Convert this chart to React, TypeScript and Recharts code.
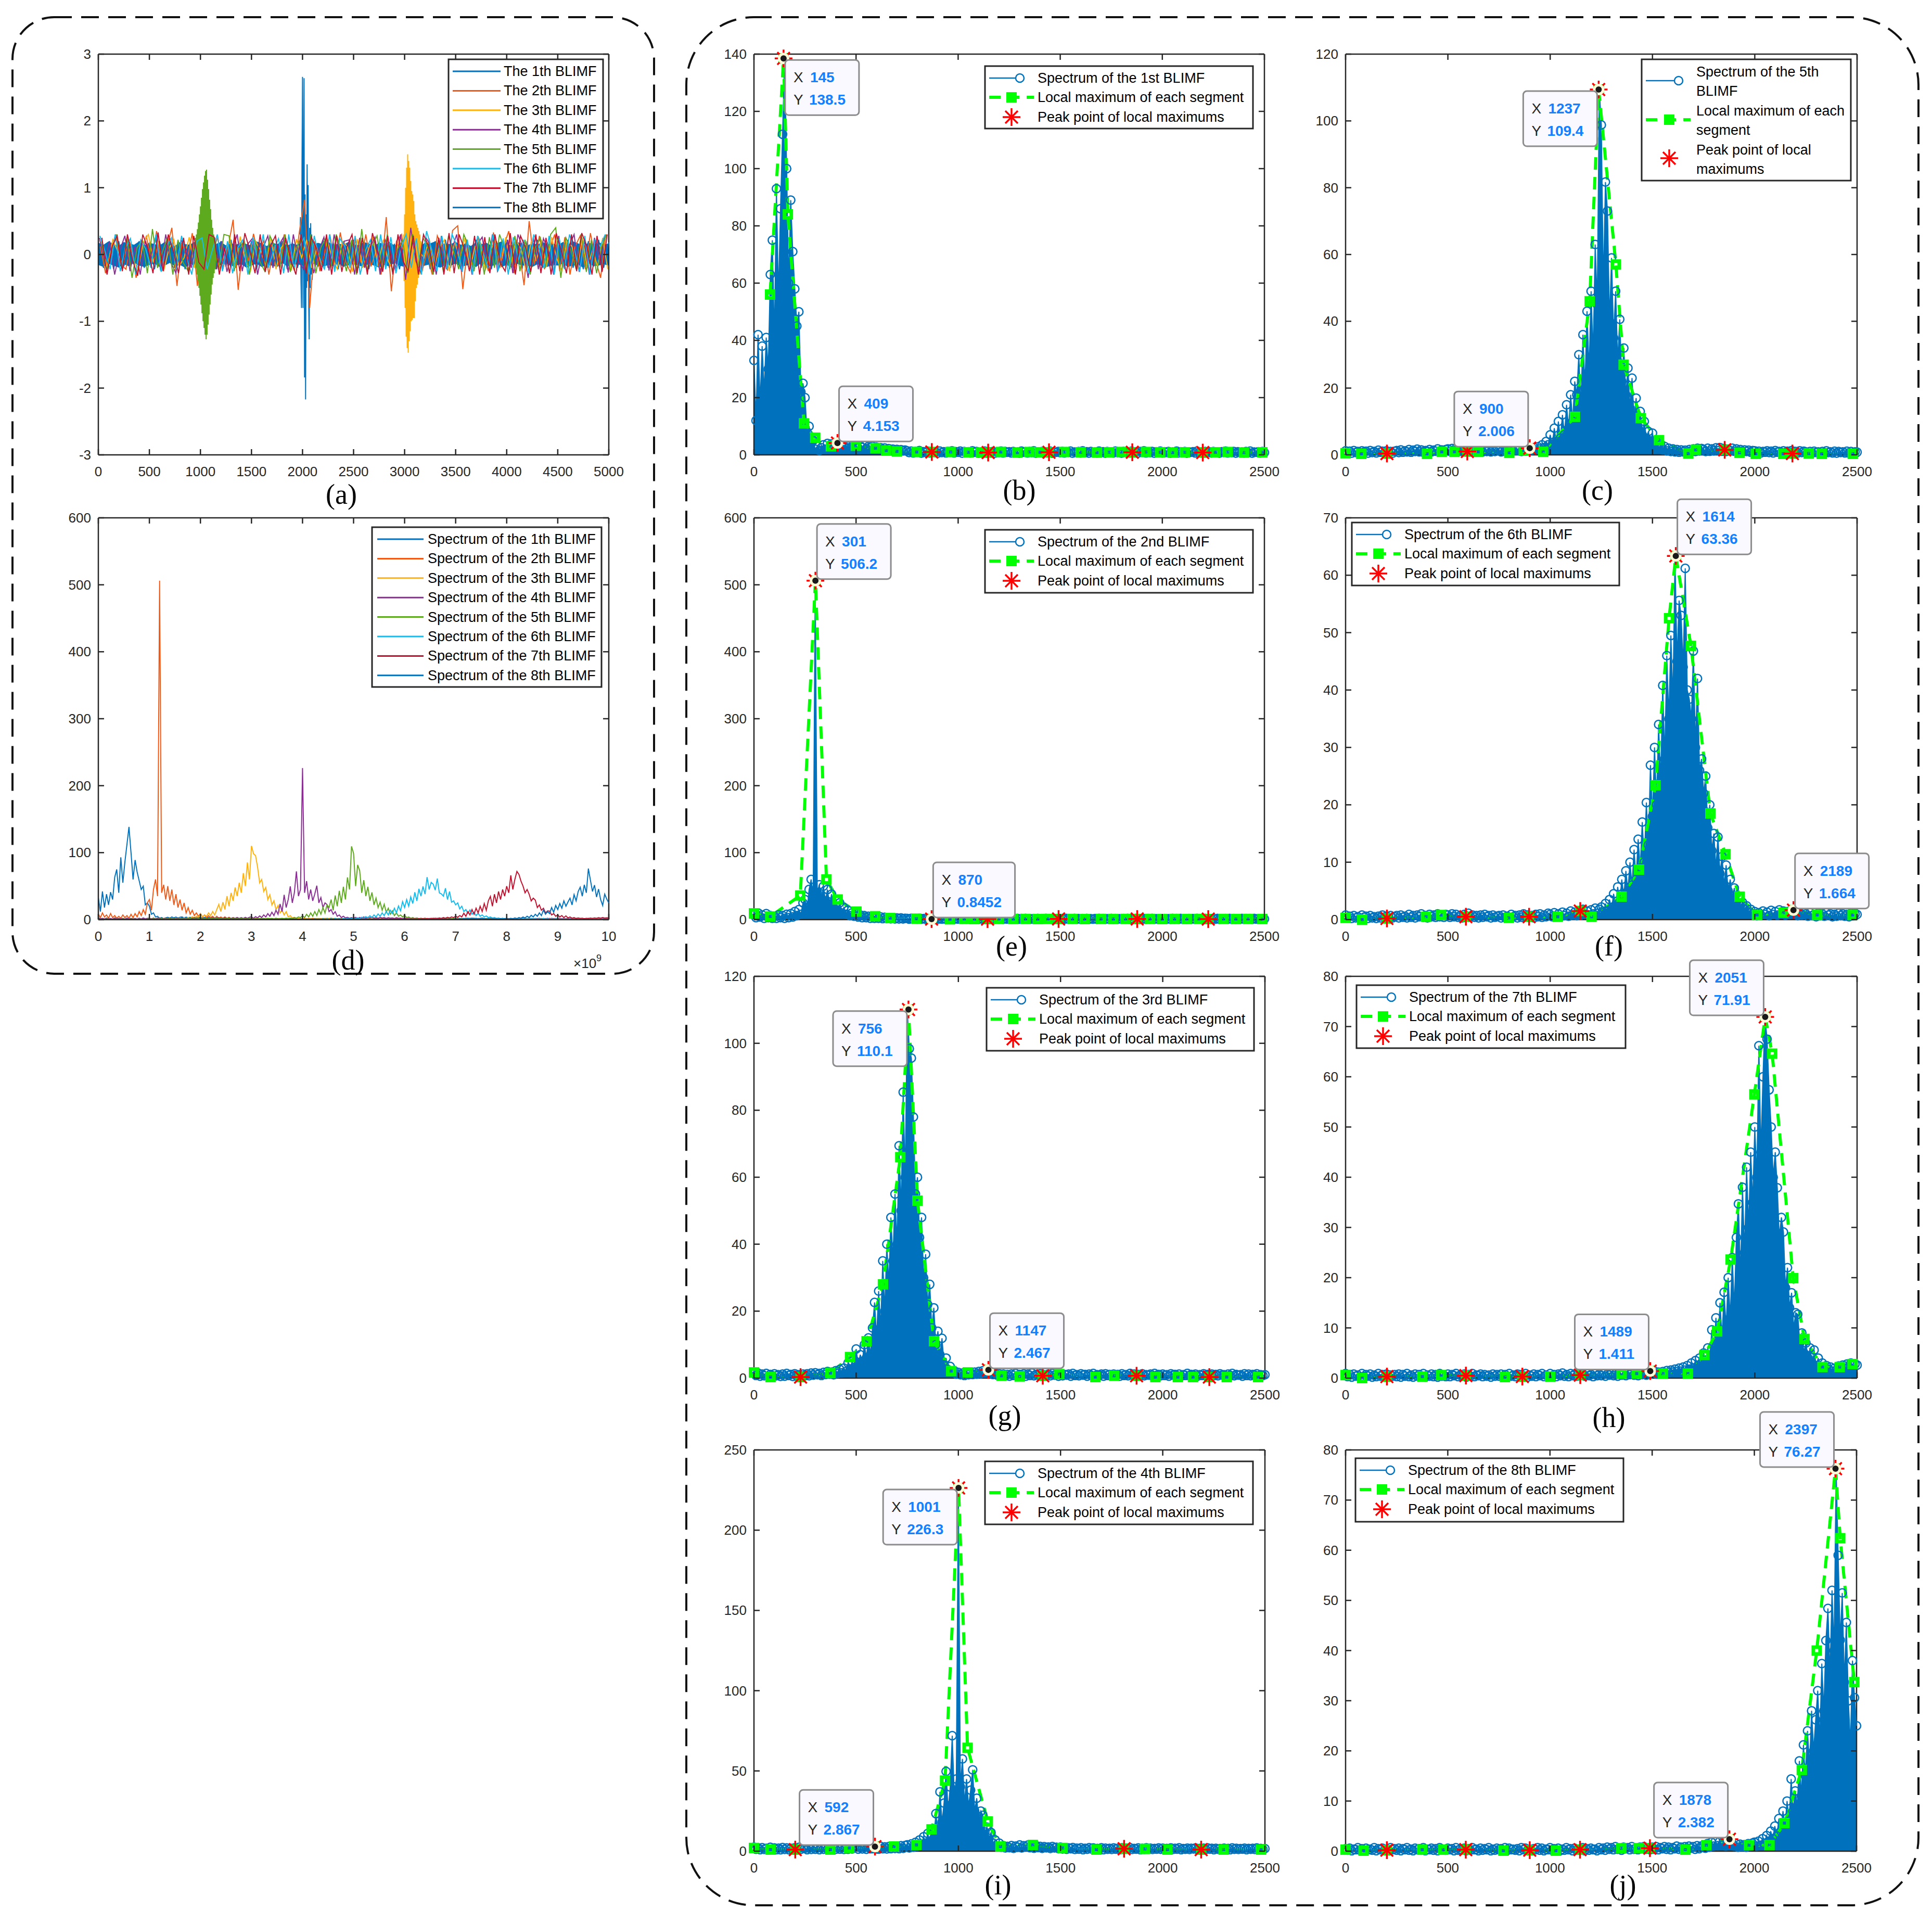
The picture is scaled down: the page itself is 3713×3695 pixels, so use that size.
import React from 'react';
import { ComposedChart, LineChart, Line, Area, XAxis, YAxis, ReferenceLine, ReferenceDot } from 'recharts';

const FONT = '"Liberation Sans", Arial, Helvetica, sans-serif';
const SERIF = '"Liberation Serif", "Times New Roman", Times, serif';
const AX = '#262626';
const C1 = '#0072BD', C2 = '#F05A16', C3 = '#FFB20F', C4 = '#8A2E94', C5 = '#5EAA1F', C6 = '#12BCEF', C7 = '#C0122F', C8 = '#0072BD';
const SERIES_COLORS = [C1, C2, C3, C4, C5, C6, C7, C8];
const MK_GREEN = '#00FF00', MK_RED = '#FF0000', TIP_BLUE = '#1280FF';
const TICK = 11;
const LEG_FS = 27;

// ---------------- panel (a): time-domain BLIMFs ----------------
const A_NAMES = ['The 1th BLIMF', 'The 2th BLIMF', 'The 3th BLIMF', 'The 4th BLIMF', 'The 5th BLIMF', 'The 6th BLIMF', 'The 7th BLIMF', 'The 8th BLIMF'];
const A_X_TICKS = [0, 500, 1000, 1500, 2000, 2500, 3000, 3500, 4000, 4500, 5000];
const A_Y_TICKS = [-3, -2, -1, 0, 1, 2, 3];

// noise, one value every 50 samples (each series has its own start sample)
const T1 = [.18,-.2,.15,-.22,.2,-.18,.22,-.15,.2,-.2, .18,-.22,.2,-.16,.22,-.2,.18,-.22,.2,-.18, .22,-.2,.16,-.22,.2,-.18,.22,-.2,.18,-.15, .2,-.22,.18,-.2,.22,-.16,.2,-.22,.18,-.2, .1,-.1,.2,-.18,.22,-.2,.18,-.22,.2,-.16, .22,-.2,.18,-.22,.2,-.18,.22,-.2,.16,-.22, .2,-.18,.22,-.2,.18,-.22,.2,-.16,.22,-.2, .18,-.22,.2,-.18,.22,-.2,.16,-.22,.2,-.18, .22,-.2,.18,-.22,.2,-.16,.22,-.2,.18,-.22, .2,-.18,.22,-.2,.16,-.22,.2,-.18,.22,-.2, .18];
const T2 = [.12,-.28,.05,.3,-.15,-.22,.18,-.35,.08,.27, -.12,.35,-.25,.1,.4,-.47,.2,-.08,.32,-.47, .15,-.3,.06,.26,-.22,.1,.52,-.53,.18,-.1, .31,-.06,.22,-.3,.12,-.18,.3,.05,-.24,.35, .82,-.8,.2,-.25,.08,.28,-.2,.33,-.1,-.27, .24,-.12,.3,-.18,.05,-.3,.56,-.55,.2,.3, -.25,.12,.32,-.26,.05,-.3,.28,.1,-.24,.36, .43,-.52,.15,-.22,.27,.06,-.25,.33,-.2,.12, .35,-.28,.1,-.46,.5,-.15,.28,-.22,.08,.3, -.25,.26,-.3,.12,.28,-.22,.32,-.08,-.35,.3];
const T3 = [.1,-.2,.22,.05,-.18,.25,-.08,-.22,.18,.3, -.12,.2,-.25,.08,.22,-.18,-.05,.26,-.2,.12, .2,-.25,.1,-.22,.04,.24,-.2,.27,-.1,-.25, .2,.06,-.18,.25,-.22,.1,.19,-.24,.23,-.05, .22,-.2,.1,-.18,.24,-.06,-.22,.2,.12,-.26, .23,-.2,.05,.25,-.18,.22,-.1,-.24,.2,.08, -.1,.1,.05,-.05,.24,-.2,.1,.22,-.25,.2, -.08,.25,-.22,.12,.2,-.24,.05,.23,-.2,.26, -.18,.22,.08,-.25,.2,-.1,.22,-.18,.26,-.06, -.24,.2,.12,-.22,.25,-.2,.06,-.18,.25,-.22];
const T4 = [.25,-.1,.2,-.3,.06,.28,-.25,.12,-.3,.2, -.05,.26,-.24,.3,-.12,-.28,.22,.08,-.2,.25, -.3,.28,.1,-.22,.2,-.26,.05,.3,-.25,.15, .24,-.3,.08,.28,-.2,.12,.25,-.27,.3,-.1, -.22,.2,-.28,.06,.26,-.24,.3,-.12,.2,.22, -.3,.25,-.2,.1,.26,-.3,.22,.05,-.24,.3, -.38,.4,-.1,-.28,.25,.12,-.3,.28,-.22,.06, .3,-.26,.22,-.3,.15,.26,-.2,.3,-.25,-.08, .22,-.28,.3,.1,-.35,.26,-.22,.24,.05,-.3, .28,-.2,.12,.3,-.26,.22,-.3,.25,-.12,.28];
const T5 = [.2,-.25,.06,.3,-.2,.25,-.35,.1,.22,-.28, .38,-.2,.05,.26,-.3,.22,-.12,-.25,.1,-.1, .05,-.05,.1,-.22,.3,.28,-.25,.08,.2,-.3, .22,-.1,-.25,.28,.12,-.2,.3,-.26,.05,.24, -.22,.3,-.28,.1,.25,-.2,.3,.06,-.25,.22, -.3,.38,-.25,.12,.28,-.22,.3,-.26,.08,.22, -.28,.3,-.2,.25,.1,-.3,.22,-.26,.28,.05, -.22,.3,.12,-.25,.24,-.3,.26,-.2,.3,.08, -.22,.28,-.25,.22,-.3,.1,.25,-.2,.3,.4, -.35,.25,.06,-.22,.3,-.26,.22,-.28,.12,.3];
const T6 = [.28,.05,-.22,.3,-.25,.1,.24,-.3,.22,.08, -.2,.3,-.26,.12,.25,-.22,.28,-.05,-.3,.2, .25,-.22,.06,.3,-.25,.2,-.28,.1,.22,-.3, .26,-.12,.3,-.2,.05,.24,-.28,.3,-.22,.1, .25,-.3,.28,-.08,-.22,.3,-.26,.24,.12,-.2, .28,-.3,.06,.22,-.25,.3,-.22,.26,-.28,.1, .3,-.2,.24,-.3,.35,.08,-.25,.28,-.22,.3, .12,-.26,.22,-.3,.28,.05,-.2,.3,-.25,.24, -.3,.26,-.08,.22,-.28,.3,.1,-.2,.28,-.3, .24,-.22,.3,.06,-.26,.28,-.3,.22,.12,.3];
const T7 = [.25,-.3,.12,.28,-.25,.3,-.08,-.32,.3,.1, -.28,.33,-.25,.3,.05,-.28,.25,-.3,.28,-.12, -.22,.3,.26,-.3,.1,-.28,.3,-.25,.32,.06, -.28,.3,-.26,.12,.28,-.3,.25,-.08,-.3,.3, -.28,.26,.1,-.25,.3,-.3,.28,-.26,.12,.3, -.28,.25,-.3,.32,.05,-.26,.28,-.3,.3,-.1, -.25,.28,-.3,.3,.12,-.26,.25,-.3,.32,-.28, .3,.08,-.25,.28,-.3,.26,-.28,.3,-.12,-.25, .32,-.3,.28,.1,-.26,.3,-.28,.25,-.3,.32, .06,-.28,.3,-.25,.32,.12,-.3,.28,-.26,.3];
// 8th BLIMF: dense core, upper / lower edge every 50 samples
const T8_HI = [.17,.14,.19,.15,.12,.18,.16,.14,.19,.13, .17,.15,.13,.18,.16,.12,.18,.15,.14,.19, .16,.13,.17,.15,.18,.13,.16,.14,.18,.15, .13,.19,.16,.12,.17,.15,.18,.13,.16,.14, .18,.16,.13,.17,.15,.19,.12,.16,.14,.18, .15,.13,.18,.16,.12,.17,.15,.18,.13,.16, .14,.18,.15,.12,.17,.16,.19,.13,.16,.15, .18,.14,.16,.12,.18,.15,.17,.13,.16,.19, .15,.13,.18,.16,.12,.17,.14,.18,.15,.16, .13,.18,.15,.19,.16,.12,.17,.15,.18,.14, .16];
const T8_LO = [-.15,-.18,-.13,-.16,-.19,-.14,-.17,-.12,-.16,-.18, -.15,-.13,-.18,-.16,-.12,-.17,-.15,-.19,-.14,-.16, -.18,-.13,-.16,-.18,-.15,-.12,-.17,-.16,-.14,-.19, -.16,-.13,-.18,-.15,-.16,-.18,-.12,-.17,-.15,-.14, -.16,-.19,-.13,-.16,-.18,-.15,-.17,-.12,-.18,-.15, -.14,-.16,-.18,-.13,-.16,-.19,-.15,-.17,-.12,-.16, -.18,-.15,-.13,-.18,-.16,-.14,-.17,-.19,-.15,-.16, -.13,-.18,-.16,-.15,-.18,-.12,-.16,-.17,-.14,-.18, -.15,-.19,-.13,-.16,-.16,-.18,-.14,-.17,-.18,-.15, -.16,-.13,-.18,-.16,-.15,-.19,-.12,-.17,-.16,-.14, -.16];
// bursts, one value every 5 samples
const BURST1 = [.3,.56,-.4,-.8,1.4,2.66,-.8,1.0,2.64,-1.84,.9,-2.17,.6,-.5,1.35,-.4,1.04,-.6,-1.27,.4,-.5,.47,-.3,.3,-.38,.2]; // from 1975
const BURST3 = [.3,-.4,.6,-.8,1.0,-1.23,1.3,-1.4,1.5,-1.47,1.4,-1.3,1.3,-1.15,1.1,-1.0,.95,-.98,.9,-.95,.8,-.95,.6,-.7,.5,-.5,.45,-.45,.4,-.35,.35,-.3,.3,-.25,.2]; // from 2990
const BURST5 = [.25,-.2,.3,-.3,.38,-.4,.48,-.5,.6,-.62,.72,-.75,.85,-.88,.98,-1.0,1.08,-1.1,1.18,-1.2,1.25,-1.27,1.27,-1.2,1.12,-1.05,.98,-.9,.82,-.75,.68,-.6,.52,-.45,.4,-.35,.3,-.28,.25,-.22,.2]; // from 950

// ---------------- spectra (one value every 10 bins, bins 0..2500) ----------------
const SPEC1 = [
  33,12,42,18,38,22,41,30,63,75,40,93,55,86,112,138.5,100,60,89,71,58,45,50,22,25,
  20,8,10,4,5,2,3,1.5,2.5,3.5,2,4,2.5,3.8,2.2,3.5,4.1,2.5,3.6,2.8,3.5,2.4,3.3,2.6,3.4,
  3,2.4,3.2,2.6,3.5,2.2,2.9,2.5,3,2.2,2.7,2.1,2.5,1.9,2.4,1.8,2.2,1.7,2,1.6,1.9,1.5,1.8,1.4,1.7,
  1.4,0.8,1.3,0.7,1.2,0.9,1.5,0.6,1.1,0.8,1.3,0.7,1.2,0.9,1,0.6,1.3,0.8,1.1,0.7,1.2,0.9,1.4,0.7,1.1,
  0.9,1.3,0.6,1.2,0.8,1.1,0.7,1.4,0.9,1.2,0.6,1,0.8,1.3,0.7,1.1,0.9,1.2,0.6,1,0.8,1.3,0.7,1.2,0.9,
  1.1,0.7,1.2,0.8,1,0.6,1.3,0.9,1.1,0.7,1.2,0.8,1.4,0.6,1,0.9,1.2,0.7,1.1,0.8,1.3,0.6,1,0.9,1.2,
  0.8,1.2,0.7,1.1,0.9,1.3,0.6,1,0.8,1.2,0.7,1.4,0.9,1.1,0.6,1.2,0.8,1,0.7,1.3,0.9,1.1,0.6,1.2,0.8,
  1,0.7,1.3,0.8,1.1,0.6,1.2,0.9,1,0.7,1.3,0.8,1.1,0.6,1.2,0.9,1.4,0.7,1,0.8,1.2,0.6,1.1,0.9,1.3,
  0.7,1.1,0.8,1.2,0.6,1,0.9,1.3,0.7,1.1,0.8,1.2,0.6,1,0.9,1.1,0.7,1.3,0.8,1,0.6,1.2,0.9,1.1,0.7,
  1.2,0.8,1,0.6,1.1,0.9,1.3,0.7,1,0.8,1.2,0.6,1.1,0.9,1,0.7,1.2,0.8,1.3,0.6,1,0.9,1.1,0.7,1.2,
  0.8];
const SPEC2 = [
  8,3,10,4,7,2,9,3,6,2,5,2,7,3,6,2,8,3,9,4,12,6,15,8,25,
  30,14,45,60,35,506.2,40,52,30,50,28,45,22,38,18,30,14,25,10,18,8,14,6,10,5,
  9,4,7,3,6,3,5,2,5,2,4,2,4,1.5,3.5,1.5,3,1.2,3,1,2.5,1,2.5,1,2,
  1.8,0.8,2,1,1.6,0.7,1.9,0.9,1.5,0.8,1.7,0.85,2,1,1.6,0.7,1.8,0.9,1.5,0.6,1.7,0.8,1.9,0.7,1.6,
  0.9,1.7,0.7,1.5,0.8,1.8,0.6,1.4,0.9,1.6,0.7,1.9,0.8,1.5,0.6,1.7,0.9,1.4,0.7,1.6,0.8,1.8,0.6,1.5,0.9,
  1.6,0.7,1.4,0.9,1.8,0.6,1.5,0.8,1.7,0.7,1.4,0.9,1.6,0.6,1.8,0.8,1.5,0.7,1.7,0.9,1.4,0.6,1.6,0.8,1.5,
  0.8,1.5,0.6,1.7,0.9,1.4,0.7,1.8,0.8,1.6,0.6,1.5,0.9,1.7,0.7,1.4,0.8,1.6,0.6,1.8,0.9,1.5,0.7,1.4,0.8,
  1.7,0.6,1.5,0.8,1.4,0.9,1.6,0.7,1.8,0.6,1.5,0.8,1.7,0.9,1.4,0.7,1.6,0.6,1.5,0.8,1.8,0.7,1.4,0.9,1.6,
  0.7,1.6,0.9,1.4,0.6,1.7,0.8,1.5,0.7,1.8,0.9,1.4,0.6,1.6,0.8,1.5,0.7,1.7,0.9,1.4,0.6,1.8,0.8,1.5,0.7,
  1.5,0.8,1.7,0.6,1.4,0.9,1.6,0.7,1.8,0.8,1.5,0.6,1.4,0.9,1.7,0.7,1.6,0.8,1.5,0.6,1.8,0.9,1.4,0.7,1.6,
  0.9];
const SPEC3 = [
  1.7,0.8,1.5,0.6,1.2,0.7,1.4,0.5,1.1,0.6,1.3,0.7,1,0.5,1.2,0.6,1.4,0.8,1.1,0.5,1.3,0.6,1,0.5,1.2,
  0.8,1.3,0.7,1.5,0.9,1.6,1,1.4,0.8,1.7,1.1,2,1.2,1.8,1,2.2,1.4,2.6,1.6,3,2,4.5,2.5,5,3.2,
  8.7,4,7,5,10,6,12,7,15,22.6,12,26,15,35,20,40,28,48,35,55,40,69.4,50,85.4,60,
  110.1,98.4,95.6,78,55,60,42,48,30,37,22,28,15,21,10,14,7,11.9,4,6,2.5,3.5,1.8,2.2,1.2,
  1.7,1,1.5,0.8,1.4,1,1.6,1.1,1.8,1.2,2,1.3,2.2,1.5,2.467,1.4,2,1.1,1.6,0.9,1.3,0.8,1.2,0.7,1.1,
  0.6,1.2,0.8,1.4,0.7,1.1,0.9,1.3,0.6,1.2,0.8,1.5,0.7,1.1,0.9,1.3,0.6,1,0.8,1.2,0.7,1.4,0.9,1.1,0.6,
  1.3,0.7,1.1,0.9,1.2,0.6,1.4,0.8,1,0.7,1.3,0.9,1.1,0.6,1.2,0.8,1.4,0.7,1,0.9,1.2,0.6,1.3,0.8,1.1,
  0.7,1.2,0.9,1.1,0.6,1.3,0.8,1,0.7,1.4,0.9,1.2,0.6,1.1,0.8,1.3,0.7,1,0.9,1.2,0.6,1.4,0.8,1.1,0.7,
  1.2,0.8,1,0.6,1.3,0.9,1.1,0.7,1.2,0.6,1,0.8,1.4,0.7,1.1,0.9,1.2,0.6,1,0.8,1.3,0.7,1.1,0.9,1.2,
  0.8,1.1,0.7,1.3,0.9,1,0.6,1.2,0.8,1.4,0.7,1.1,0.9,1,0.6,1.3,0.8,1.2,0.7,1.1,0.9,1.3,0.6,1,0.8,
  1];
const SPEC4 = [
  2.5,1.2,2,1,2.2,1.1,1.8,0.8,2.4,1.2,2,1,1.9,0.9,2.3,1.1,2,1,1.8,0.8,2.1,1,2.4,1.2,2,
  1.9,1,2.2,1.1,2.5,1.2,2,1,2.3,1.2,2.6,1.3,2.1,1,2.4,1.2,2.7,1.3,2.2,1.1,2.5,1.2,2.8,1.4,2.3,
  2.6,1.3,2.9,1.4,2.4,1.2,2.8,1.5,1.6,2.867,1.4,1.3,3,1.5,2.7,1.4,2.9,1.6,3.2,1.7,3,1.6,3.4,1.8,3.6,
  4,2,4.5,2.5,5.5,3,7,4,9,5,11,6,14,8,23.4,12,37,18,30,49.7,25,40,72,35,45,
  226.3,40,57.5,30,45,28,38,50.7,25,33,18,25,22.4,12,15,8,11.7,5,7,3,5,2.5,3.5,2,3,
  2.2,3.5,1.8,3.2,2.4,3.9,2,3.4,2.6,3.8,2.2,3.1,1.9,3.5,2.3,3,1.8,2.8,2.1,2.6,1.7,2.9,2,2.4,1.6,
  2.5,1.4,2.2,1.2,2,1.5,2.3,1.1,1.9,1.3,2.1,1,1.8,1.2,2.2,1.4,2,1.1,1.7,1.3,2.1,1,1.9,1.2,1.8,
  1.1,2,1.3,1.8,1,2.1,1.2,1.9,1.5,2.2,1.1,1.7,1.3,2,1,1.8,1.2,2.1,1.4,1.9,1.1,1.7,1.3,2,1.2,
  1.9,1,1.7,1.2,2,1.1,1.8,1.3,2.1,1,1.6,1.2,1.9,1.1,1.8,1.4,2,1,1.7,1.2,1.9,1.1,2,1.3,1.8,
  1,1.8,1.2,1.6,1.1,1.9,1.3,1.7,1,2,1.2,1.8,1.1,1.6,1.3,1.9,1,1.7,1.2,1.8,1.1,2,1.3,1.7,1.2,
  1.6];
const SPEC5 = [
  1.2,0.6,1.1,0.5,1.3,0.7,1,0.6,1.2,0.8,1.1,0.5,1.3,0.7,1,0.6,1.4,0.8,1.1,0.6,1.2,0.7,1,0.5,1.1,
  1.3,0.7,1.5,0.8,1.2,0.9,1.6,0.8,1.4,1,1.7,0.9,1.5,0.8,1.3,1,1.6,0.9,1.4,1.1,1.8,1,1.5,0.9,1.6,
  1.8,1,1.9,1.2,2,1.1,1.7,1,1.9,1.2,1.6,1,1.8,1.1,1.7,1,1.6,0.9,1.5,1,1.7,0.9,1.6,1,1.8,
  1.4,0.9,1.6,1,1.8,1.1,1.5,1.2,1.9,1.3,1.7,1,1.8,1.2,1.6,2.006,1.4,2.2,1.5,2.4,1.8,3,2.2,4,3,
  6,3,8,4,10,5,12,6,15,8,18,10,22,18,30,14,36,20,43,25,49,30,63,45,109.4,
  98.8,50,81.7,73,40,59,35,49,28,40.6,22,32,18,26,14,23,11,17,8,13,6,10,5,7,4,
  6.5,3,4,2,3,1.5,2.5,1.2,2,1,1.8,0.9,1.6,0.8,1.5,0.9,1.4,0.8,1.6,1,1.8,1,2,1.2,1.9,
  1.6,1,2,1.1,1.8,1.2,2.1,1.3,2.2,1.1,1.9,1,1.7,1.2,2,1.1,1.8,1,1.6,0.9,1.5,1,1.4,0.8,1.3,
  1.2,0.7,1.1,0.6,1,0.8,1.2,0.7,1.1,0.6,1.3,0.8,1,0.7,1.2,0.6,1.1,0.8,1.3,0.7,1,0.6,1.2,0.7,1.1,
  0.9,0.6,1,0.5,1.1,0.7,0.9,0.6,1,0.5,1.2,0.7,0.9,0.6,1.1,0.5,1,0.7,0.9,0.6,1.1,0.5,1,0.6,0.9,
  0.8];
const SPEC6 = [
  0.8,0.3,0.6,0.2,0.7,0.3,0.5,0.2,0.8,0.4,0.6,0.2,0.7,0.3,0.5,0.2,0.6,0.3,0.8,0.4,0.6,0.2,0.7,0.3,0.5,
  0.7,0.3,0.8,0.4,0.6,0.3,0.9,0.4,0.7,0.3,0.8,0.5,1,0.4,0.7,0.3,0.9,0.5,0.8,0.4,1,0.5,0.8,0.4,0.9,
  0.8,0.4,1,0.5,0.9,0.4,0.7,0.3,0.9,0.5,1.1,0.5,0.8,0.4,0.7,0.3,0.8,0.4,0.9,0.5,0.7,0.3,0.8,0.4,0.6,
  0.7,0.3,0.8,0.4,0.6,0.3,0.9,0.5,0.7,0.3,0.8,0.4,1,0.5,0.8,0.4,0.7,0.3,0.9,0.5,1,0.4,0.8,0.5,1.1,
  0.9,0.5,1.2,0.6,1,0.5,1.3,0.7,1.1,0.6,1.5,0.8,1.3,0.7,1.5,0.8,1.8,0.9,1.5,0.8,1.7,1,2,1.1,1.8,
  2.2,1.2,2.8,1.5,3.5,1.8,4.5,2.5,5.7,3,7,4,8.5,5,10,6,12.2,7,14,9,17,10,20.4,13,26.9,
  18,30,20,34,24,40.8,28,46,35,49.5,38,63.36,45,55.6,53,44,61.2,40,38.4,35,46.8,30,42,26,28,
  22,25,16,20,12,15,9,14.4,8,11,6,9.5,5,7,4,5.5,3,4,2.4,3,1.8,2.4,1.2,1.8,1,
  1.4,0.7,1.2,0.8,1.5,0.9,1.3,0.7,1.6,0.9,1.4,0.8,1.7,1,1.5,0.8,1.4,0.9,1.664,1,1.3,0.7,1.2,0.8,1.4,
  1,0.6,1.2,0.7,0.9,0.5,1.1,0.7,1,0.6,1.2,0.8,1,0.5,0.9,0.6,1.1,0.7,1,0.6,0.9,0.5,1.1,0.7,1,
  0.9];
const SPEC7 = [
  0.9,0.3,0.7,0.2,0.8,0.4,0.6,0.2,0.9,0.3,0.7,0.4,0.8,0.2,0.6,0.3,0.9,0.4,0.7,0.2,0.8,0.3,0.6,0.4,0.7,
  0.3,0.8,0.2,0.7,0.4,0.9,0.3,0.6,0.2,0.8,0.4,0.7,0.3,0.9,0.2,0.6,0.4,0.8,0.3,0.7,0.2,0.9,0.4,0.6,0.3,
  0.8,0.3,0.7,0.5,0.9,0.3,0.6,0.4,0.8,0.2,0.7,0.4,0.9,0.3,0.6,0.5,0.8,0.3,0.7,0.4,0.6,0.2,0.8,0.4,0.7,
  0.4,0.8,0.3,0.7,0.2,0.9,0.4,0.6,0.3,0.8,0.5,0.7,0.3,0.9,0.2,0.6,0.4,0.8,0.3,0.7,0.5,0.9,0.3,0.6,0.4,
  0.9,0.4,0.7,0.3,0.8,0.5,1,0.4,0.7,0.3,0.9,0.5,0.8,0.4,1,0.6,0.8,0.4,0.9,0.5,0.7,0.3,0.9,0.5,0.8,
  0.5,1,0.4,0.8,0.6,1.1,0.5,0.9,0.4,1,0.6,1.2,0.5,0.9,0.7,1.1,0.6,1.2,0.5,1,0.7,1.3,0.6,1.411,0.8,
  1,1.4,0.8,1.2,0.9,1.3,1,1.5,1.1,1.6,1.2,1.8,1.3,2,1.4,2.2,1.6,2.5,1.8,3,2,3.5,2.4,4,3,
  5,3.5,6,4,9.6,5,12,7,15,8,17.1,10,20,12,24,14,28,34.7,20,38,25,42,30,45,35,
  50,40,66.2,45,60,71.91,67.5,57.4,50,40,45,37.9,28,32,29.1,18,22,14,17,10,13,12.7,7,9,5,
  7,4,6,3,5.6,2.5,4,2,3,1.5,2.5,1.8,2.2,1.4,2,1.6,2.4,1.8,2.6,2,2.8,2.2,3,2.4,2.8,
  2.6];
const SPEC8 = [
  0.5,0.2,0.6,0.1,0.4,0.3,0.7,0.2,0.5,0.1,0.6,0.3,0.4,0.2,0.7,0.1,0.5,0.3,0.6,0.2,0.4,0.1,0.7,0.3,0.5,
  0.2,0.6,0.1,0.5,0.3,0.7,0.2,0.4,0.1,0.6,0.3,0.5,0.2,0.7,0.1,0.4,0.3,0.6,0.2,0.5,0.1,0.7,0.3,0.4,0.2,
  0.6,0.3,0.5,0.1,0.7,0.2,0.4,0.3,0.6,0.1,0.5,0.2,0.7,0.3,0.4,0.1,0.6,0.2,0.5,0.3,0.7,0.1,0.4,0.2,0.6,
  0.3,0.5,0.2,0.7,0.1,0.6,0.3,0.4,0.2,0.5,0.1,0.7,0.3,0.6,0.2,0.4,0.1,0.5,0.3,0.7,0.2,0.6,0.1,0.4,0.3,
  0.7,0.2,0.5,0.3,0.6,0.1,0.4,0.2,0.7,0.3,0.5,0.1,0.6,0.2,0.4,0.3,0.7,0.1,0.5,0.2,0.6,0.3,0.4,0.1,0.7,
  0.3,0.6,0.2,0.8,0.4,0.7,0.3,0.9,0.4,0.6,0.2,0.8,0.5,0.7,0.3,0.9,0.4,0.6,0.3,0.8,0.5,0.9,0.4,0.7,0.3,
  0.8,0.4,0.9,0.3,0.7,0.5,0.9,0.4,0.8,0.3,0.7,0.5,1,0.4,0.8,0.3,0.9,0.5,1,0.6,0.9,0.4,1.1,0.5,1,
  1.2,0.6,1.5,0.8,1.8,1,2,1.1,1.9,1.2,2,1,1.8,2.382,1.6,1,1.5,0.8,1.4,0.9,1.3,0.8,1.5,1,1.6,
  1.8,1,2,1.2,2.5,1.5,3.1,2,4,2.5,5,3,6.5,4,8,5,10,6,14.4,8,12,9,18,11,21.2,
  15,24,17,28,20,26.2,32,22,37.4,28,42,48.4,35,52,40,76.27,59,42.1,51.5,33.7,45.6,30,21.2,38,30.6,
  25];

// local maxima of each segment [bin, value]
const GREEN1 = [[79,56],[145,138.5],[166,84],[245,11],[300,6],[377,3],[409,4.153],[499,3.2],[595,2.3],[648,1.5],[700,1.2],[797,1],[871,1],[963,1],[1050,0.9],[1112,0.8],[1147,0.8],[1209,1],[1290,0.8],[1349,1],[1401,0.9],[1445,0.9],[1520,1],[1600,0.9],[1680,0.8],[1740,0.9],[1800,1],[1853,0.9],[1920,1],[1990,0.9],[2050,0.8],[2110,0.9],[2198,0.8],[2260,0.9],[2320,1],[2400,0.8],[2490,0.9]];
const GREEN2 = [[0,9.3],[80,4.7],[227,36],[301,506.2],[355,60],[410,30],[502,12],[594,5],[667,2.3],[795,1.4],[870,0.8452],[960,0.5],[1030,1],[1080,0.8],[1144,0.8],[1200,1],[1270,0.9],[1330,1],[1390,0.8],[1440,1],[1492,0.9],[1560,1],[1620,0.8],[1700,1],[1760,0.9],[1820,1],[1877,0.9],[1940,1],[2000,0.8],[2060,1],[2120,0.9],[2180,1],[2225,0.8],[2300,1],[2360,0.9],[2420,1],[2490,0.9]];
const GREEN3 = [[0,1.7],[81,0.3],[228,0.3],[374,1.5],[470,6.3],[551,11],[631,28],[716,66],[756,110.1],[800,53],[881,11],[965,2.1],[1046,1.7],[1147,2.467],[1211,0.7],[1300,0.5],[1413,0.7],[1494,1.2],[1670,0.3],[1762,0.7],[1872,0.7],[1964,0.3],[2074,0.3],[2148,0.3],[2228,0.3],[2313,0.3],[2467,0.3]];
const GREEN4 = [[0,2],[81,1],[202,1],[374,1],[466,2],[592,2.867],[685,2.9],[795,3.9],[869,13.6],[935,44],[1001,226.3],[1045,64.4],[1144,18.5],[1206,2.9],[1364,3.9],[1510,2],[1675,1],[1811,1.5],[1913,1.4],[2023,1],[2188,1],[2298,1],[2481,1]];
const GREEN5 = [[0,0.5],[77,0.3],[202,0.4],[398,0.3],[470,0.9],[532,0.9],[595,1],[648,0.9],[800,0.6],[871,1.3],[900,2.006],[966,0.9],[1121,11.4],[1193,46],[1237,109.4],[1321,57],[1359,27],[1443,11],[1532,4.4],[1675,0.4],[1711,1.5],[1853,1.5],[1925,0.6],[2005,0.3],[2139,0.3],[2184,0.4],[2264,0.4],[2327,0.3],[2479,0.3]];
const GREEN6 = [[0,0.3],[81,0],[202,0.2],[393,0.5],[467,0.8],[588,0.5],[798,0.3],[897,0.5],[1037,0.5],[1147,1.5],[1202,0.5],[1349,4],[1434,8.7],[1515,23.4],[1581,52.5],[1614,63.36],[1688,47.7],[1783,18.5],[1857,11.4],[1926,4],[2011,0.8],[2140,1.2],[2189,1.664],[2305,0.8],[2478,0.8]];
const GREEN7 = [[0,0.6],[81,0],[202,0.3],[375,0.3],[467,0.6],[588,0.5],[779,0.2],[864,0.3],[1000,0.3],[1147,0.6],[1349,0.9],[1423,0.9],[1489,1.411],[1551,0.9],[1673,0.9],[1754,4.6],[1816,9.3],[1882,23.6],[1998,56.5],[2051,71.91],[2085,64.6],[2188,19.9],[2243,7.8],[2331,2.2],[2415,2.2],[2478,2.8]];
const GREEN8 = [[0,0.3],[88,0.1],[202,0.2],[375,0.3],[478,0.3],[588,0.3],[772,0.1],[901,0.2],[1029,0.1],[1147,0.3],[1349,0.6],[1434,0.6],[1489,0.6],[1662,0.3],[1765,1.2],[1878,2.382],[1974,1.2],[2074,1.2],[2147,5.6],[2232,16.2],[2305,40],[2397,76.27],[2420,62.4],[2489,33.7]];

// peak points of local maxima
const RED1 = [[145,138.5],[409,4.153],[871,1],[1147,0.8],[1445,0.9],[1853,0.9],[2198,0.8]];
const RED2 = [[301,506.2],[870,0.8452],[1144,0.8],[1492,0.9],[1877,0.9],[2225,0.8]];
const RED3 = [[228,0.3],[756,110.1],[1147,2.467],[1413,0.7],[1872,0.7],[2228,0.3]];
const RED4 = [[202,1],[592,2.867],[1001,226.3],[1811,1.5],[2188,1]];
const RED5 = [[202,0.4],[595,1],[900,2.006],[1237,109.4],[1853,1.5],[2184,0.4]];
const RED6 = [[202,0.2],[588,0.5],[897,0.5],[1147,1.5],[1614,63.36],[2189,1.664]];
const RED7 = [[202,0.3],[588,0.5],[864,0.3],[1147,0.6],[1489,1.411],[2051,71.91]];
const RED8 = [[202,0.2],[588,0.3],[901,0.2],[1147,0.3],[1489,0.6],[1878,2.382],[2397,76.27]];

// data tips: [x, y, x label, y label]
const TIPS1 = [[145, 138.5, '145', '138.5'], [409, 4.153, '409', '4.153']];
const TIPS2 = [[301, 506.2, '301', '506.2'], [870, 0.8452, '870', '0.8452']];
const TIPS3 = [[756, 110.1, '756', '110.1'], [1147, 2.467, '1147', '2.467']];
const TIPS4 = [[1001, 226.3, '1001', '226.3'], [592, 2.867, '592', '2.867']];
const TIPS5 = [[1237, 109.4, '1237', '109.4'], [900, 2.006, '900', '2.006']];
const TIPS6 = [[1614, 63.36, '1614', '63.36'], [2189, 1.664, '2189', '1.664']];
const TIPS7 = [[2051, 71.91, '2051', '71.91'], [1489, 1.411, '1489', '1.411']];
const TIPS8 = [[2397, 76.27, '2397', '76.27'], [1878, 2.382, '1878', '2.382']];

const SPEC_X_TICKS = [0, 500, 1000, 1500, 2000, 2500];
const Y_TICKS_140 = [0, 20, 40, 60, 80, 100, 120, 140];
const Y_TICKS_120 = [0, 20, 40, 60, 80, 100, 120];
const Y_TICKS_600 = [0, 100, 200, 300, 400, 500, 600];
const Y_TICKS_70 = [0, 10, 20, 30, 40, 50, 60, 70];
const Y_TICKS_80 = [0, 10, 20, 30, 40, 50, 60, 70, 80];
const Y_TICKS_250 = [0, 50, 100, 150, 200, 250];

const D_NAMES = ['Spectrum of the 1th BLIMF', 'Spectrum of the 2th BLIMF', 'Spectrum of the 3th BLIMF', 'Spectrum of the 4th BLIMF', 'Spectrum of the 5th BLIMF', 'Spectrum of the 6th BLIMF', 'Spectrum of the 7th BLIMF', 'Spectrum of the 8th BLIMF'];
const D_X_TICKS = [0, 250, 500, 750, 1000, 1250, 1500, 1750, 2000, 2250, 2500];
const D_X_LABELS = ['0', '1', '2', '3', '4', '5', '6', '7', '8', '9', '10'];
const D_Y_TICKS = [0, 100, 200, 300, 400, 500, 600];
const ALL_SPECS = [SPEC1, SPEC2, SPEC3, SPEC4, SPEC5, SPEC6, SPEC7, SPEC8];

const LEG_GREEN = 'Local maximum of each segment';
const LEG_RED = 'Peak point of local maximums';

// ---------------- helpers ----------------
const grid = (vals: number[], step: number, start: number) => vals.map((y, i) => ({ x: start + i * step, y }));
const rangeGrid = (lo: number[], hi: number[], step: number, start: number) => lo.map((v, i) => ({ x: start + i * step, y: [v, hi[i]] }));
const pairs = (arr: number[][]) => arr.map(([x, y]) => ({ x, y }));

const makeXTick = (ph: number, fmt: (v: number) => string) => (props: any) => {
  const { x, y, payload } = props;
  return (
    <g>
      <line x1={x} y1={y} x2={x} y2={y - TICK} stroke={AX} strokeWidth={2.5} />
      <line x1={x} y1={y - ph} x2={x} y2={y - ph + TICK} stroke={AX} strokeWidth={2.5} />
      <text x={x} y={y + 41} textAnchor="middle" fontSize={26} fontFamily={FONT} fill={AX}>{fmt(payload.value)}</text>
    </g>
  );
};
const makeYTick = (pw: number) => (props: any) => {
  const { x, y, payload } = props;
  return (
    <g>
      <line x1={x} y1={y} x2={x + TICK} y2={y} stroke={AX} strokeWidth={2.5} />
      <line x1={x + pw} y1={y} x2={x + pw - TICK} y2={y} stroke={AX} strokeWidth={2.5} />
      <text x={x - 14} y={y + 9} textAnchor="end" fontSize={26} fontFamily={FONT} fill={AX}>{String(payload.value)}</text>
    </g>
  );
};

function Asterisk({ cx, cy, s = 17, w = 3.5 }: any) {
  const d = s * 0.707;
  return (
    <g stroke={MK_RED} strokeWidth={w}>
      <line x1={cx - s} y1={cy} x2={cx + s} y2={cy} />
      <line x1={cx} y1={cy - s} x2={cx} y2={cy + s} />
      <line x1={cx - d} y1={cy - d} x2={cx + d} y2={cy + d} />
      <line x1={cx - d} y1={cy + d} x2={cx + d} y2={cy - d} />
    </g>
  );
}
const greenDot = (p: any) => <rect key={'g' + p.index} x={p.cx - 6.5} y={p.cy - 6.5} width={13} height={13} fill="none" stroke={MK_GREEN} strokeWidth={7} />;
const redDot = (p: any) => <Asterisk key={'r' + p.index} cx={p.cx} cy={p.cy} />;

function TipShape(props: any) {
  const { cx, cy, tip, pos } = props;
  const [, , xs, ys] = tip;
  const w = 48 + Math.max(xs.length, ys.length) * 15.2 + 18;
  const h = 106;
  const bx = pos[1] === 'r' ? cx + 3 : cx - w - 3;
  const by = pos[0] === 'u' ? cy - h - 3 : cy + 3;
  return (
    <g>
      <circle cx={cx} cy={cy} r={11} fill="#FFFBD6" />
      <circle cx={cx} cy={cy} r={6} fill="#1a1a1a" />
      <rect x={bx} y={by} width={w} height={h} rx={7} fill="#F9F9FF" stroke="#8C8C8C" strokeWidth={3} />
      <text x={bx + 16} y={by + 43} fontSize={28} fontFamily={FONT} fill={AX}>X</text>
      <text x={bx + 48} y={by + 43} fontSize={28} fontFamily={FONT} fill={TIP_BLUE} fontWeight="bold">{xs}</text>
      <text x={bx + 16} y={by + 86} fontSize={28} fontFamily={FONT} fill={AX}>Y</text>
      <text x={bx + 46} y={by + 86} fontSize={28} fontFamily={FONT} fill={TIP_BLUE} fontWeight="bold">{ys}</text>
    </g>
  );
}

// ---------------- layout of spectrum panels ----------------
const STD_ROWS = (name: string) => [
  { icon: 'blue', cy: 23, text: [[23, name]] },
  { icon: 'green', cy: 60, text: [[60, LEG_GREEN]] },
  { icon: 'red', cy: 98, text: [[98, LEG_RED]] },
];
const STD_ICON = { x0: 8, circ: 67, mark: 51, tx: 101 };

const PANELS = [
  { key: 'b', L: 1449, T: 104, R: 2430, B: 874, ymax: 140, yTicks: Y_TICKS_140, spec: SPEC1, green: GREEN1, red: RED1, tips: TIPS1, tipPos: ['dr', 'ur'],
    leg: { l: 1893, t: 127, w: 515, h: 120, rows: STD_ROWS('Spectrum of the 1st BLIMF'), ic: STD_ICON }, label: '(b)', lx: 1959, ly: 942 },
  { key: 'c', L: 2586, T: 104, R: 3569, B: 874, ymax: 120, yTicks: Y_TICKS_120, spec: SPEC5, green: GREEN5, red: RED5, tips: TIPS5, tipPos: ['dl', 'ul'],
    leg: { l: 3155, t: 114, w: 402, h: 233, ic: { x0: 8, circ: 71, mark: 53, tx: 105 }, rows: [
      { icon: 'blue', cy: 41, text: [[24, 'Spectrum of the 5th'], [61, 'BLIMF']] },
      { icon: 'green', cy: 116, text: [[99, 'Local maximum of each'], [136, 'segment']] },
      { icon: 'red', cy: 190, text: [[174, 'Peak point of local'], [211, 'maximums']] },
    ] }, label: '(c)', lx: 3070, ly: 942 },
  { key: 'e', L: 1449, T: 995, R: 2430, B: 1767, ymax: 600, yTicks: Y_TICKS_600, spec: SPEC2, green: GREEN2, red: RED2, tips: TIPS2, tipPos: ['ur', 'ur'],
    leg: { l: 1893, t: 1018, w: 515, h: 121, rows: STD_ROWS('Spectrum of the 2nd BLIMF'), ic: STD_ICON }, label: '(e)', lx: 1944, ly: 1818 },
  { key: 'f', L: 2586, T: 995, R: 3569, B: 1767, ymax: 70, yTicks: Y_TICKS_70, spec: SPEC6, green: GREEN6, red: RED6, tips: TIPS6, tipPos: ['ur', 'ur'],
    leg: { l: 2598, t: 1004, w: 514, h: 121, rows: STD_ROWS('Spectrum of the 6th BLIMF'), ic: STD_ICON }, label: '(f)', lx: 3092, ly: 1818 },
  { key: 'g', L: 1449, T: 1876, R: 2431, B: 2648, ymax: 120, yTicks: Y_TICKS_120, spec: SPEC3, green: GREEN3, red: RED3, tips: TIPS3, tipPos: ['dl', 'ur'],
    leg: { l: 1896, t: 1898, w: 514, h: 121, rows: STD_ROWS('Spectrum of the 3rd BLIMF'), ic: STD_ICON }, label: '(g)', lx: 1931, ly: 2720 },
  { key: 'h', L: 2586, T: 1876, R: 3569, B: 2648, ymax: 80, yTicks: Y_TICKS_80, spec: SPEC7, green: GREEN7, red: RED7, tips: TIPS7, tipPos: ['ul', 'ul'],
    leg: { l: 2607, t: 1893, w: 517, h: 121, rows: STD_ROWS('Spectrum of the 7th BLIMF'), ic: STD_ICON }, label: '(h)', lx: 3092, ly: 2724 },
  { key: 'i', L: 1449, T: 2786, R: 2431, B: 3557, ymax: 250, yTicks: Y_TICKS_250, spec: SPEC4, green: GREEN4, red: RED4, tips: TIPS4, tipPos: ['dl', 'ul'],
    leg: { l: 1893, t: 2808, w: 515, h: 121, rows: STD_ROWS('Spectrum of the 4th BLIMF'), ic: STD_ICON }, label: '(i)', lx: 1918, ly: 3622 },
  { key: 'j', L: 2586, T: 2786, R: 3568, B: 3557, ymax: 80, yTicks: Y_TICKS_80, spec: SPEC8, green: GREEN8, red: RED8, tips: TIPS8, tipPos: ['ul', 'ul'],
    leg: { l: 2605, t: 2802, w: 515, h: 122, rows: STD_ROWS('Spectrum of the 8th BLIMF'), ic: STD_ICON }, label: '(j)', lx: 3119, ly: 3622 },
];

const YW = 110, MT = 110, MR = 50, XH = 70;

function SpecPanel({ p }: any) {
  const pw = p.R - p.L, ph = p.B - p.T;
  const W = YW + pw + MR, H = MT + ph + XH;
  const blue = grid(p.spec, 10, 0);
  const green = pairs(p.green);
  const red = pairs(p.red);
  return (
    <div style={{ position: 'absolute', left: p.L - YW, top: p.T - MT }}>
      <ComposedChart width={W} height={H} margin={{ top: MT, right: MR, bottom: 0, left: 0 }}>
        <XAxis type="number" dataKey="x" domain={[0, 2500]} ticks={SPEC_X_TICKS} interval={0} height={XH} tickSize={0} tickMargin={0} tickLine={false} axisLine={{ stroke: AX, strokeWidth: 2.5 }} tick={makeXTick(ph, (v) => String(v))} />
        <YAxis type="number" domain={[0, p.ymax]} ticks={p.yTicks} interval={0} width={YW} tickSize={0} tickMargin={0} tickLine={false} axisLine={{ stroke: AX, strokeWidth: 2.5 }} tick={makeYTick(pw)} />
        <ReferenceLine y={p.ymax} stroke={AX} strokeWidth={2.5} />
        <ReferenceLine x={2500} stroke={AX} strokeWidth={2.5} />
        <Area data={blue} dataKey="y" type="linear" stroke="none" fill={C1} fillOpacity={1} dot={false} activeDot={false} isAnimationActive={false} />
        <Line data={blue} dataKey="y" type="linear" stroke={C1} strokeWidth={2} dot={{ r: 8, stroke: C1, strokeWidth: 2.5, fill: 'none' }} activeDot={false} isAnimationActive={false} />
        <Line data={green} dataKey="y" type="linear" stroke={MK_GREEN} strokeWidth={6} strokeDasharray="24 14" dot={greenDot} activeDot={false} isAnimationActive={false} />
        <Line data={red} dataKey="y" type="linear" stroke="none" strokeWidth={0} dot={redDot} activeDot={false} isAnimationActive={false} />
        {p.tips.map((t: any, i: number) => (
          <ReferenceDot key={i} x={t[0]} y={t[1]} r={6} ifOverflow="visible" zIndex={2000}
            shape={(sp: any) => <TipShape cx={sp.cx} cy={sp.cy} tip={t} pos={p.tipPos[i]} />} />
        ))}
      </ComposedChart>
    </div>
  );
}

function SpecLegend({ leg }: any) {
  const { l, t, w, h, rows, ic } = leg;
  return (
    <svg width={w + 6} height={h + 6} style={{ position: 'absolute', left: l - 3, top: t - 3 }}>
      <g transform="translate(3,3)">
        <rect x={0} y={0} width={w} height={h} fill="#fff" stroke={AX} strokeWidth={3} />
        {rows.map((r: any, i: number) => (
          <g key={i}>
            {r.icon === 'blue' && (
              <g>
                <line x1={ic.x0} y1={r.cy} x2={ic.circ} y2={r.cy} stroke={C1} strokeWidth={2.5} />
                <circle cx={ic.circ} cy={r.cy} r={8} fill="#fff" stroke={C1} strokeWidth={2.5} />
              </g>
            )}
            {r.icon === 'green' && (
              <g>
                <line x1={ic.x0} y1={r.cy} x2={ic.x0 + 86} y2={r.cy} stroke={MK_GREEN} strokeWidth={6} strokeDasharray="22 14" />
                <rect x={ic.mark - 6.5} y={r.cy - 6.5} width={13} height={13} fill="none" stroke={MK_GREEN} strokeWidth={7} />
              </g>
            )}
            {r.icon === 'red' && <Asterisk cx={ic.mark} cy={r.cy} />}
            {r.text.map((tx: any, j: number) => (
              <text key={j} x={ic.tx} y={tx[0]} dominantBaseline="central" fontSize={LEG_FS} fontFamily={FONT} fill="#000">{tx[1]}</text>
            ))}
          </g>
        ))}
      </g>
    </svg>
  );
}

function LineLegend({ l, t, w, h, names, colors, x0, x1, tx }: any) {
  return (
    <svg width={w + 6} height={h + 6} style={{ position: 'absolute', left: l - 3, top: t - 3 }}>
      <g transform="translate(3,3)">
        <rect x={0} y={0} width={w} height={h} fill="#fff" stroke={AX} strokeWidth={3} />
        {names.map((n: string, i: number) => {
          const cy = 23 + i * 37.4;
          return (
            <g key={i}>
              <line x1={x0} y1={cy} x2={x1} y2={cy} stroke={colors[i]} strokeWidth={3} />
              <text x={tx} y={cy} dominantBaseline="central" fontSize={LEG_FS} fontFamily={FONT} fill="#000">{n}</text>
            </g>
          );
        })}
      </g>
    </svg>
  );
}

function TimePanel() {
  const L = 189, T = 104, R = 1170, B = 874;
  const pw = R - L, ph = B - T;
  const W = YW + pw + MR, H = MT + ph + XH;
  const series = [
    { d: grid(T1, 50, 0), c: C1 }, { d: grid(BURST1, 5, 1975), c: C1 },
    { d: grid(T2, 50, 20), c: C2 },
    { d: grid(T3, 50, 40), c: C3 }, { d: grid(BURST3, 5, 2990), c: C3 },
    { d: grid(T4, 50, 10), c: C4 },
    { d: grid(T5, 50, 30), c: C5 }, { d: grid(BURST5, 5, 950), c: C5 },
    { d: grid(T6, 50, 15), c: C6 },
    { d: grid(T7, 50, 35), c: C7 },
  ];
  const core = rangeGrid(T8_LO, T8_HI, 50, 0);
  return (
    <div style={{ position: 'absolute', left: L - YW, top: T - MT }}>
      <ComposedChart width={W} height={H} margin={{ top: MT, right: MR, bottom: 0, left: 0 }}>
        <XAxis type="number" dataKey="x" domain={[0, 5000]} ticks={A_X_TICKS} interval={0} height={XH} tickSize={0} tickMargin={0} tickLine={false} axisLine={{ stroke: AX, strokeWidth: 2.5 }} tick={makeXTick(ph, (v) => String(v))} />
        <YAxis type="number" domain={[-3, 3]} ticks={A_Y_TICKS} interval={0} width={YW} tickSize={0} tickMargin={0} tickLine={false} axisLine={{ stroke: AX, strokeWidth: 2.5 }} tick={makeYTick(pw)} />
        <ReferenceLine y={3} stroke={AX} strokeWidth={2.5} />
        <ReferenceLine x={5000} stroke={AX} strokeWidth={2.5} />
        {series.map((s, i) => (
          <Line key={i} data={s.d} dataKey="y" type="linear" stroke={s.c} strokeWidth={2} dot={false} activeDot={false} isAnimationActive={false} />
        ))}
        <Area data={core} dataKey="y" type="linear" stroke={C8} strokeWidth={1.5} fill={C8} fillOpacity={1} dot={false} activeDot={false} isAnimationActive={false} />
      </ComposedChart>
    </div>
  );
}

function SpectraOverlayPanel() {
  const L = 189, T = 995, R = 1170, B = 1767;
  const pw = R - L, ph = B - T;
  const W = YW + pw + MR, H = MT + ph + XH;
  return (
    <div style={{ position: 'absolute', left: L - YW, top: T - MT }}>
      <LineChart width={W} height={H} margin={{ top: MT, right: MR, bottom: 0, left: 0 }}>
        <XAxis type="number" dataKey="x" domain={[0, 2500]} ticks={D_X_TICKS} interval={0} height={XH} tickSize={0} tickMargin={0} tickLine={false} axisLine={{ stroke: AX, strokeWidth: 2.5 }} tick={makeXTick(ph, (v) => D_X_LABELS[D_X_TICKS.indexOf(v)])} />
        <YAxis type="number" domain={[0, 600]} ticks={D_Y_TICKS} interval={0} width={YW} tickSize={0} tickMargin={0} tickLine={false} axisLine={{ stroke: AX, strokeWidth: 2.5 }} tick={makeYTick(pw)} />
        <ReferenceLine y={600} stroke={AX} strokeWidth={2.5} />
        <ReferenceLine x={2500} stroke={AX} strokeWidth={2.5} />
        {ALL_SPECS.map((s, i) => (
          <Line key={i} data={grid(s, 10, 0)} dataKey="y" type="linear" stroke={SERIES_COLORS[i]} strokeWidth={2} dot={false} activeDot={false} isAnimationActive={false} />
        ))}
      </LineChart>
    </div>
  );
}

function PanelLabel({ text, x, y }: any) {
  return (
    <div style={{ position: 'absolute', left: x, top: y, transform: 'translate(-50%, -50%)', fontFamily: SERIF, fontSize: 54, lineHeight: 1, color: '#000', whiteSpace: 'nowrap' }}>{text}</div>
  );
}

export default function App() {
  return (
    <div style={{ position: 'absolute', left: 0, top: 0, width: 3713, height: 3695, background: '#fff', overflow: 'hidden' }}>
      <svg width={3713} height={3695} style={{ position: 'absolute', left: 0, top: 0 }}>
        <rect x={24} y={33} width={1233} height={1838} rx={80} ry={80} fill="none" stroke="#111" strokeWidth={4} strokeDasharray="34 18" />
        <rect x={1319} y={33} width={2368} height={3628} rx={130} ry={130} fill="none" stroke="#111" strokeWidth={4} strokeDasharray="34 18" />
      </svg>
      <TimePanel />
      <SpectraOverlayPanel />
      {PANELS.map((p) => <SpecPanel key={p.key} p={p} />)}
      <LineLegend l={862} t={114} w={297} h={306} names={A_NAMES} colors={SERIES_COLORS} x0={8} x1={100} tx={106} />
      <LineLegend l={715} t={1013} w={441} h={307} names={D_NAMES} colors={SERIES_COLORS} x0={10} x1={99} tx={107} />
      {PANELS.map((p) => <SpecLegend key={'l' + p.key} leg={p.leg} />)}
      <svg width={120} height={50} style={{ position: 'absolute', left: 1098, top: 1822 }}>
        <text x={4} y={38} fontSize={26} fontFamily={FONT} fill={AX}>×10<tspan dy={-13} fontSize={18}>9</tspan></text>
      </svg>
      <PanelLabel text="(a)" x={656} y={950} />
      <PanelLabel text="(d)" x={669} y={1845} />
      {PANELS.map((p) => <PanelLabel key={'t' + p.key} text={p.label} x={p.lx} y={p.ly} />)}
    </div>
  );
}
